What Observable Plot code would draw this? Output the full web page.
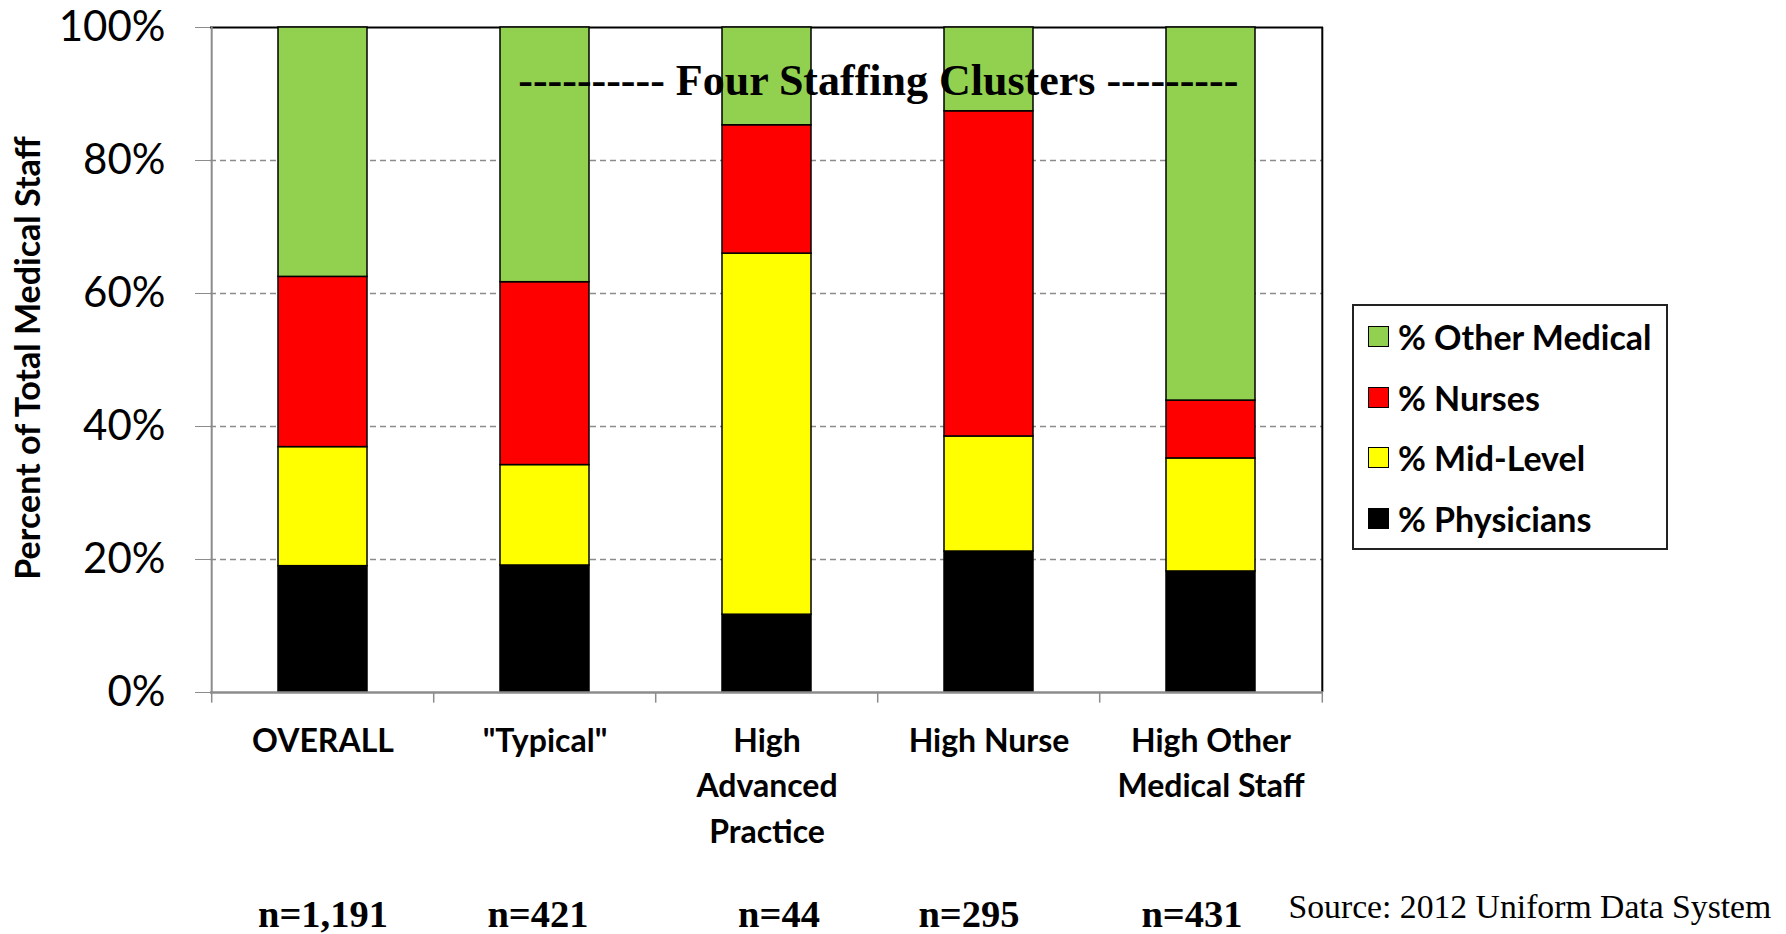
<!DOCTYPE html>
<html><head><meta charset="utf-8">
<script src="https://cdn.jsdelivr.net/npm/d3@7"></script>
<script src="https://cdn.jsdelivr.net/npm/@observablehq/plot@0.6"></script>
<style>
body{margin:0;background:#fff;}
#wrap{position:relative;width:1786px;height:934px;overflow:hidden;}
#legend{position:absolute;left:1352px;top:304px;width:312px;height:242px;border:2px solid #222;font-family:Lato,sans-serif;font-weight:bold;font-size:34px;color:#000;}
.row{position:absolute;left:14px;height:40px;display:flex;align-items:center;white-space:nowrap;}
.sw{width:19px;height:19px;border:1.5px solid #000;margin-right:9px;flex:none;}
</style></head>
<body><div id="wrap"></div>
<script>
const categories = ["OVERALL", "\"Typical\"", "High Advanced Practice", "High Nurse", "High Other Medical Staff"];
const categoryLabels = ["OVERALL", "\"Typical\"", "High\nAdvanced\nPractice", "High Nurse", "High Other\nMedical Staff"];
const sampleSizes = ["n=1,191", "n=421", "n=44", "n=295", "n=431"];
const series = ["% Physicians", "% Mid-Level", "% Nurses", "% Other Medical"];
const seriesColors = ["#000000", "#FFFF00", "#FF0000", "#92D050"];
const physicians = [19.0, 19.1, 11.7, 21.2, 18.2];
const midLevel = [17.9, 15.1, 54.3, 17.3, 17.0];
const nurses = [25.6, 27.5, 19.3, 48.9, 8.7];
const otherMedical = [37.5, 38.3, 14.7, 12.6, 56.1];
const yTicks = [0, 20, 40, 60, 80, 100];
const gridTicks = [20, 40, 60, 80];
const titleText = "---------- Four Staffing Clusters ---------";
const yTitle = "Percent of Total Medical Staff";
const sourceText = "Source: 2012 Uniform Data System";

const seriesValues = [physicians, midLevel, nurses, otherMedical];
const data = [];
categories.forEach((c, i) => seriesValues.forEach((arr, j) => data.push({cat: c, series: series[j], value: arr[i]})));

const W = 1786, H = 934, mL = 210, mR = 463, mT = 27, mB = 242;
const step = (W - mL - mR) / categories.length;
const last = categories[categories.length - 1];
const gray = "#8c8c8c";
const serif = "'Liberation Serif', serif";
const nShift = [0, -7, 12, -20, -19]; // horizontal nudge of the n= labels, as in the original

const chart = Plot.plot({
  width: W, height: H, marginLeft: mL, marginRight: mR, marginTop: mT, marginBottom: mB,
  style: {fontFamily: "Lato, sans-serif", background: "white", color: "black"},
  x: {type: "band", domain: categories, paddingInner: 0.6, paddingOuter: 0.3},
  y: {domain: [0, 100]},
  color: {domain: series, range: seriesColors},
  marks: [
    Plot.ruleY(gridTicks, {stroke: gray, strokeWidth: 1.5, strokeDasharray: "6,4"}),
    Plot.ruleY([100], {stroke: "#000", strokeWidth: 2}),
    Plot.ruleX([last], {dx: step / 2, stroke: "#000", strokeWidth: 2}),
    Plot.barY(data, {x: "cat", y: "value", fill: "series", stroke: "#000", strokeWidth: 1.5}),
    Plot.ruleX([categories[0]], {dx: -step / 2, stroke: gray, strokeWidth: 2}),
    Plot.ruleY([0], {stroke: gray, strokeWidth: 2.5}),
    Plot.ruleX(categories, {dx: -step / 2, y1: 0, y2: -1.6, stroke: gray, strokeWidth: 1.5}),
    Plot.ruleX([last], {dx: step / 2, y1: 0, y2: -1.6, stroke: gray, strokeWidth: 1.5}),
    Plot.axisY({ticks: yTicks, tickFormat: d => d + "%", tickSize: 15, tickPadding: 30, fontSize: 42, stroke: gray, label: null}),
    Plot.axisX({tickSize: 0, tickPadding: 27, fontSize: 32, fontWeight: "bold", lineHeight: 1.42,
      tickFormat: d => categoryLabels[categories.indexOf(d)], label: null}),
    ...categories.map((c, i) => Plot.text([sampleSizes[i]], {x: () => c, frameAnchor: "bottom", dx: nShift[i], dy: 234,
      lineAnchor: "bottom", fontSize: 38.5, fontWeight: "bold", fontFamily: serif})),
    Plot.text([yTitle], {frameAnchor: "left", textAnchor: "middle", dx: -181, dy: -2, rotate: -90, fontSize: 34, fontWeight: "bold"}),
    Plot.text([titleText], {x: () => categories[2], y: () => 92, dx: step / 2, fontSize: 44, fontWeight: "bold", fontFamily: serif}),
    Plot.text([sourceText], {frameAnchor: "bottom-left", dx: 1288 - mL, dy: 917 - (H - mB), textAnchor: "start", lineAnchor: "bottom", fontSize: 33.7, fontFamily: serif})
  ]
});
const wrap = document.getElementById("wrap");
wrap.appendChild(chart);

const legend = document.createElement("div");
legend.id = "legend";
const rowCenters = [32, 93, 153, 214];
[3, 2, 1, 0].forEach((j, k) => {
  const row = document.createElement("div");
  row.className = "row";
  row.style.top = (rowCenters[k] - 20 - 2) + "px";
  const sw = document.createElement("div");
  sw.className = "sw";
  sw.style.background = seriesColors[j];
  const t = document.createElement("span");
  t.textContent = series[j];
  row.appendChild(sw); row.appendChild(t);
  legend.appendChild(row);
});
wrap.appendChild(legend);
</script>
</body></html>
